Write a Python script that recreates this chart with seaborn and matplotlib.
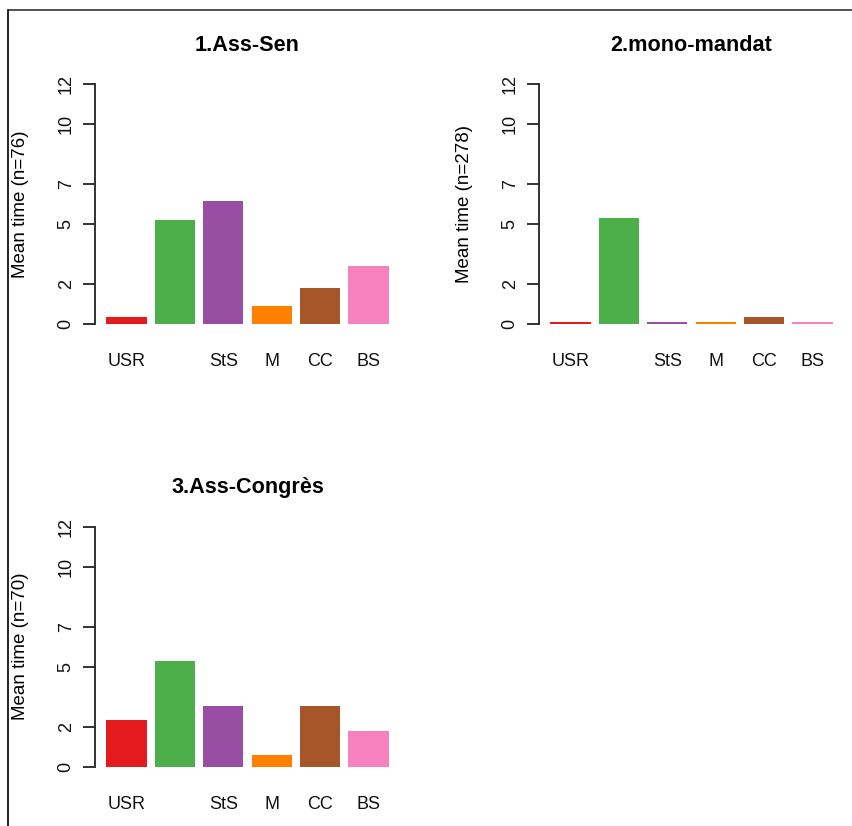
import pandas as pd
import matplotlib
matplotlib.use("Agg")
import matplotlib.pyplot as plt
from matplotlib.lines import Line2D
import seaborn as sns

# data
categories = ["USR", "", "StS", "M", "CC", "BS"]  # 2nd label not shown in the original
colors = ["#E41A1C", "#4DAF4A", "#984EA3", "#FF7F00", "#A65628", "#F781BF"]

titles = ["1.Ass-Sen", "2.mono-mandat", "3.Ass-Congrès"]
ylabels = ["Mean time (n=76)", "Mean time (n=278)", "Mean time (n=70)"]

ass_sen = [0.32, 5.21, 6.13, 0.87, 1.79, 2.89]
mono_mandat = [0.11, 5.31, 0.11, 0.11, 0.33, 0.10]
ass_congres = [2.32, 5.27, 3.05, 0.57, 3.05, 1.77]

y_ticks = [0, 2, 5, 7, 10, 12]

sns.set_style("white")
plt.rcParams["font.family"] = ["Liberation Sans", "DejaVu Sans"]
plt.rcParams["text.color"] = "#111111"
plt.rcParams["axes.labelcolor"] = "#111111"
plt.rcParams["xtick.color"] = "#111111"
plt.rcParams["ytick.color"] = "#111111"

W, H = 853, 826
fig = plt.figure(figsize=(W / 100, H / 100), dpi=100)

# axes boxes in pixels: left, top, width, height
boxes = [(95, 74.4, 305, 259), (539, 74.4, 305, 259), (95, 517, 305, 259.3)]
series = [ass_sen, mono_mandat, ass_congres]

for (lx, ty, w, h), vals, title, ylab in zip(boxes, series, titles, ylabels):
    ax = fig.add_axes([lx / W, 1 - (ty + h) / H, w / W, h / H])
    df = pd.DataFrame({"cat": categories, "val": vals})
    sns.barplot(data=df, x="cat", y="val", hue="cat", order=categories,
                hue_order=categories, palette=dict(zip(categories, colors)),
                width=1 / 1.2, linewidth=0,
                legend=False, ax=ax, saturation=1)
    ax.set_xlim(-0.65, 5.65)
    ax.set_ylim(-0.48, 12.48)
    for s in ["top", "right", "bottom"]:
        ax.spines[s].set_visible(False)
    ax.spines["left"].set_bounds(0, 12)
    ax.spines["left"].set_color("#222222")
    ax.spines["left"].set_linewidth(1.3)
    ax.set_yticks(y_ticks)
    ax.set_yticklabels([str(t) for t in y_ticks], rotation=90, va="center")
    ax.tick_params(axis="y", length=8.6, width=1.3, color="#222222",
                   pad=6, labelsize=13, left=True, direction="out")
    ax.tick_params(axis="x", length=0, pad=14, labelsize=13)
    ax.set_xticks(range(len(categories)))
    ax.set_xticklabels(categories)
    ax.set_xlabel("")
    ax.set_ylabel(ylab, fontsize=13.5, color="black")
    ax.yaxis.set_label_coords(-0.215, 0.5)
    ax.set_title(title, fontsize=15.6, fontweight="bold", pad=17, color="black")

# frame lines like the screenshot border
fig.add_artist(Line2D([8 / W, 1], [1 - 10 / H, 1 - 10 / H], color="#333333", lw=1.2,
                      transform=fig.transFigure))
fig.add_artist(Line2D([8 / W, 8 / W], [0, 1 - 10 / H], color="#222222", lw=1.4,
                      transform=fig.transFigure))

fig.savefig("out.png", dpi=100, facecolor="white")
